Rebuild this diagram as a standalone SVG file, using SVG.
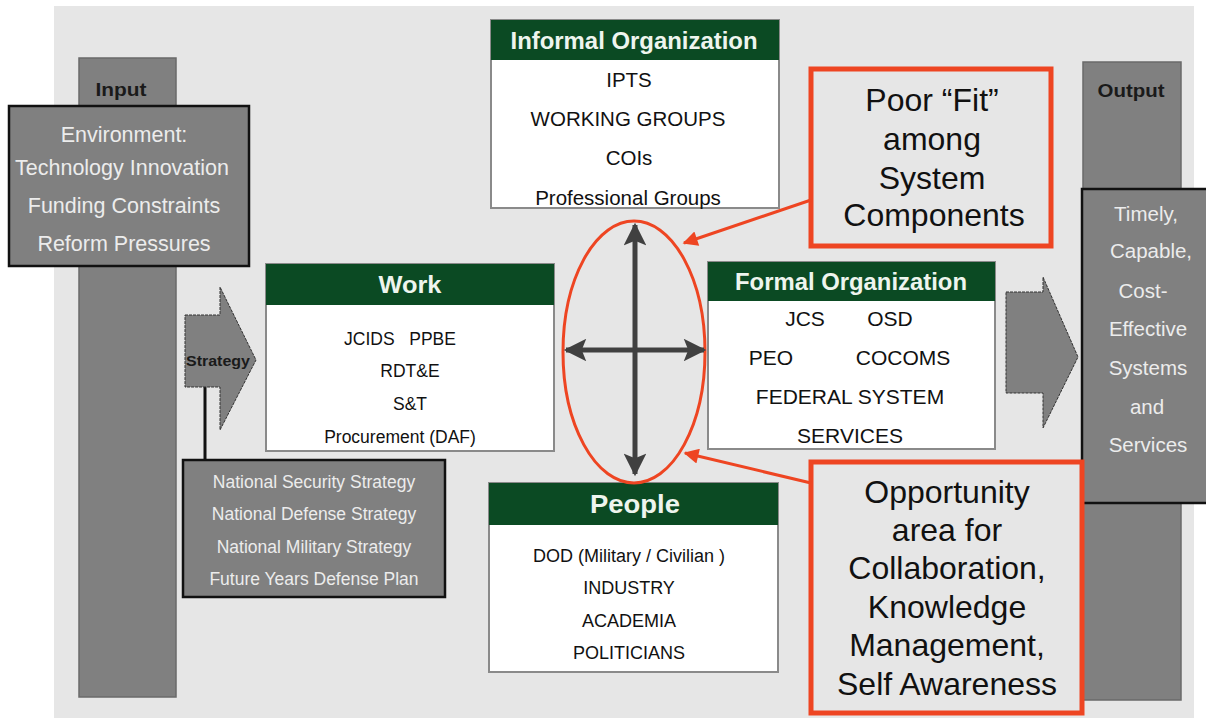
<svg xmlns="http://www.w3.org/2000/svg" width="1206" height="719" viewBox="0 0 1206 719">
<style>
.bar{fill:#808080;stroke:#6a6a6a;stroke-width:1.5}
.gbox{fill:#808080;stroke:#111;stroke-width:2.5}
.lt{font-family:"Liberation Sans",Arial,sans-serif;fill:#ececec;text-anchor:middle}
.dk{font-family:"Liberation Sans",Arial,sans-serif;fill:#111;text-anchor:middle}
.hd{font-family:"Liberation Sans",Arial,sans-serif;fill:#eef5ee;font-weight:bold;text-anchor:middle}
.bl{font-family:"Liberation Sans",Arial,sans-serif;fill:#1a1a1a;font-weight:bold;text-anchor:middle}
.card{fill:#fff;stroke:#8a8a8a;stroke-width:2}
.head{fill:#0b4a23}
.red{fill:none;stroke:#ee4522;stroke-width:5}
.redl{fill:none;stroke:#ee4522;stroke-width:3}
.cross{stroke:#404040;stroke-width:5;fill:none}
.garrow{fill:#808080;stroke:#333;stroke-width:1;stroke-dasharray:3 1}
</style>
<defs>
<marker id="ah" viewBox="0 0 10 10" refX="9" refY="5" markerWidth="5.5" markerHeight="4.5" orient="auto" markerUnits="strokeWidth">
<path d="M0,0 L10,5 L0,10 L2,5 z" fill="#404040"/>
</marker>
<marker id="rh" viewBox="0 0 10 10" refX="9" refY="5" markerWidth="6" markerHeight="5" orient="auto" markerUnits="strokeWidth">
<path d="M0,0 L10,5 L0,10 z" fill="#ee4522"/>
</marker>
</defs>
<rect width="1206" height="719" fill="#fff"/>
<rect x="54" y="6" width="1140" height="712" fill="#e6e6e6"/>

<g id="input">
<rect class="bar" x="79" y="58" width="97" height="639"/>
<text class="bl" x="121" y="96" font-size="19" textLength="51" lengthAdjust="spacingAndGlyphs">Input</text>
</g>
<g id="output">
<rect class="bar" x="1083" y="62" width="98" height="638"/>
<text class="bl" x="1131" y="97" font-size="19" textLength="67" lengthAdjust="spacingAndGlyphs">Output</text>
</g>

<g id="environment">
<rect class="gbox" x="9" y="106" width="240" height="160"/>
<text class="lt" x="124" y="142" font-size="21.5">Environment:</text>
<text class="lt" x="122" y="175" font-size="21.5">Technology Innovation</text>
<text class="lt" x="124" y="213" font-size="21.5">Funding Constraints</text>
<text class="lt" x="124" y="251" font-size="21.5">Reform Pressures</text>
</g>

<g id="strategy">
<line x1="205" y1="385" x2="205" y2="462" stroke="#111" stroke-width="3"/>
<polygon class="garrow" points="185,315 220,315 220,287 256,360 220,430 220,387 185,387"/>
<text class="bl" x="218" y="366" font-size="15" textLength="64" lengthAdjust="spacingAndGlyphs">Strategy</text>
</g>

<g id="national">
<rect class="gbox" x="183" y="460" width="262" height="137"/>
<text class="lt" x="314" y="488" font-size="17.5">National Security Strategy</text>
<text class="lt" x="314" y="520" font-size="17.5">National Defense Strategy</text>
<text class="lt" x="314" y="553" font-size="17.5">National Military Strategy</text>
<text class="lt" x="314" y="585" font-size="17.5">Future Years Defense Plan</text>
</g>

<g id="informal">
<rect class="card" x="491" y="20" width="288" height="188"/>
<rect class="head" x="491" y="20" width="288" height="40"/>
<text class="hd" x="634" y="49" font-size="23" textLength="247" lengthAdjust="spacingAndGlyphs">Informal Organization</text>
<text class="dk" x="629" y="87" font-size="20.5">IPTS</text>
<text class="dk" x="628" y="126" font-size="20.5">WORKING GROUPS</text>
<text class="dk" x="629" y="165" font-size="20.5">COIs</text>
<text class="dk" x="628" y="205" font-size="20.5">Professional Groups</text>
</g>

<g id="work">
<rect class="card" x="266" y="264" width="288" height="187"/>
<rect class="head" x="266" y="264" width="288" height="41"/>
<text class="hd" x="410" y="293" font-size="24" textLength="63" lengthAdjust="spacingAndGlyphs">Work</text>
<text class="dk" x="400" y="345" font-size="17.5" xml:space="preserve">JCIDS   PPBE</text>
<text class="dk" x="410" y="377" font-size="17.5">RDT&amp;E</text>
<text class="dk" x="410" y="410" font-size="17.5">S&amp;T</text>
<text class="dk" x="400" y="443" font-size="17.5">Procurement (DAF)</text>
</g>

<g id="formal">
<rect class="card" x="708" y="262" width="287" height="187"/>
<rect class="head" x="708" y="262" width="287" height="39"/>
<text class="hd" x="851" y="290" font-size="23" textLength="232" lengthAdjust="spacingAndGlyphs">Formal Organization</text>
<text class="dk" x="805" y="326" font-size="21">JCS</text>
<text class="dk" x="890" y="326" font-size="21">OSD</text>
<text class="dk" x="771" y="365" font-size="21">PEO</text>
<text class="dk" x="903" y="365" font-size="21">COCOMS</text>
<text class="dk" x="850" y="404" font-size="21">FEDERAL SYSTEM</text>
<text class="dk" x="850" y="443" font-size="21">SERVICES</text>
</g>

<g id="people">
<rect class="card" x="489" y="483" width="289" height="189"/>
<rect class="head" x="489" y="483" width="289" height="42"/>
<text class="hd" x="635" y="513" font-size="25" textLength="90" lengthAdjust="spacingAndGlyphs">People</text>
<text class="dk" x="629" y="562" font-size="18">DOD (Military / Civilian )</text>
<text class="dk" x="629" y="594" font-size="18">INDUSTRY</text>
<text class="dk" x="629" y="627" font-size="18">ACADEMIA</text>
<text class="dk" x="629" y="659" font-size="18">POLITICIANS</text>
</g>

<g id="out-arrow">
<polygon class="garrow" points="1006,292 1043,292 1043,277 1078,357 1043,428 1043,393 1006,393"/>
</g>

<g id="results">
<rect class="gbox" x="1082" y="189" width="130" height="314"/>
<text class="lt" x="1146" y="221" font-size="20.5">Timely,</text>
<text class="lt" x="1151" y="258" font-size="20.5">Capable,</text>
<text class="lt" x="1143" y="298" font-size="20.5">Cost-</text>
<text class="lt" x="1148" y="336" font-size="20.5">Effective</text>
<text class="lt" x="1148" y="375" font-size="20.5">Systems</text>
<text class="lt" x="1147" y="414" font-size="20.5">and</text>
<text class="lt" x="1148" y="452" font-size="20.5">Services</text>
</g>

<g id="poor-fit">
<rect class="red" x="811" y="69" width="240" height="177"/>
<text class="dk" x="932" y="111" font-size="32">Poor “Fit”</text>
<text class="dk" x="932" y="150" font-size="32">among</text>
<text class="dk" x="932" y="189" font-size="32">System</text>
<text class="dk" x="934" y="226" font-size="32">Components</text>
</g>

<g id="opportunity">
<rect class="red" x="811" y="462" width="271" height="251"/>
<text class="dk" x="947" y="503" font-size="32">Opportunity</text>
<text class="dk" x="947" y="541" font-size="32">area for</text>
<text class="dk" x="947" y="579" font-size="32">Collaboration,</text>
<text class="dk" x="947" y="618" font-size="32">Knowledge</text>
<text class="dk" x="947" y="656" font-size="32">Management,</text>
<text class="dk" x="947" y="695" font-size="32">Self Awareness</text>
</g>

<g id="connectors">
<ellipse class="redl" cx="634" cy="352" rx="71" ry="131"/>
<line class="cross" x1="635" y1="350" x2="635" y2="225" marker-end="url(#ah)"/>
<line class="cross" x1="635" y1="350" x2="635" y2="474" marker-end="url(#ah)"/>
<line class="cross" x1="635" y1="350" x2="566" y2="350" marker-end="url(#ah)"/>
<line class="cross" x1="635" y1="350" x2="704" y2="350" marker-end="url(#ah)"/>
<line class="redl" x1="811" y1="200" x2="684" y2="243" marker-end="url(#rh)"/>
<line class="redl" x1="811" y1="483" x2="685" y2="453" marker-end="url(#rh)"/>
</g>
</svg>
